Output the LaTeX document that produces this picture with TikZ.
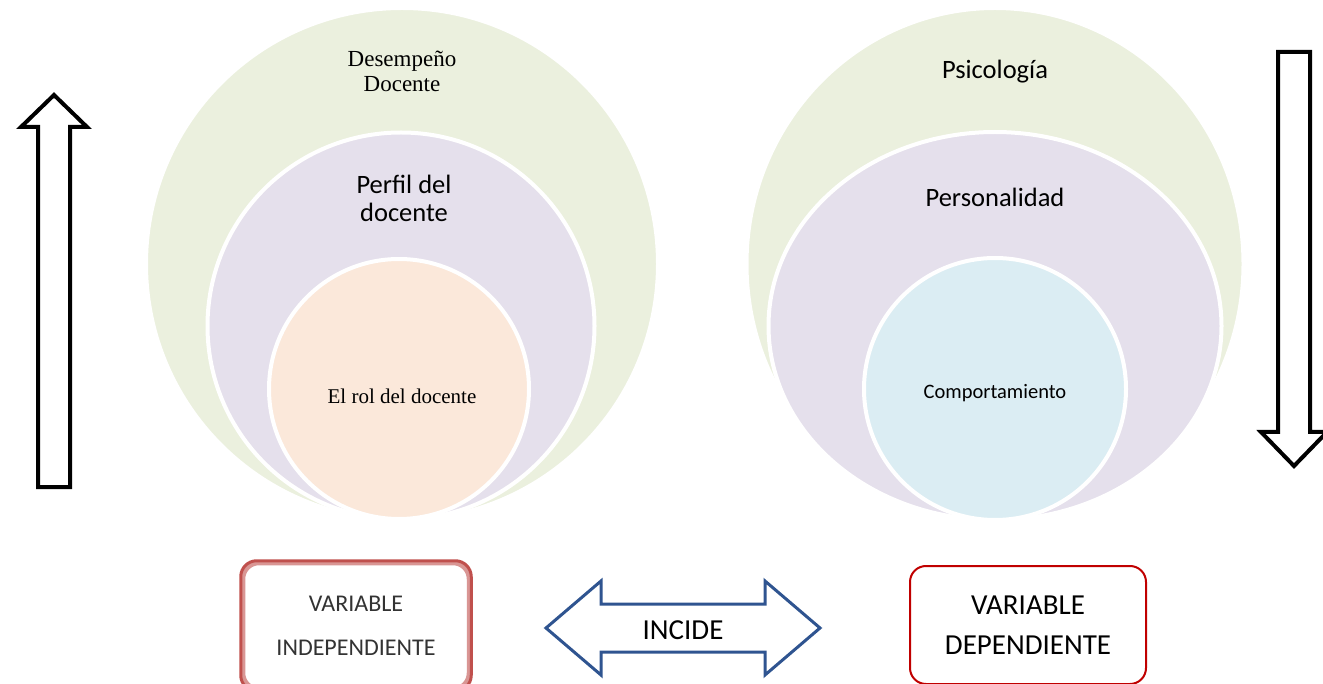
\documentclass[tikz,border=0pt]{standalone}
\usepackage{fontspec}
\setmainfont{Liberation Serif}
\newfontfamily\calibri{Carlito}
\usetikzlibrary{shapes.geometric, positioning}

\definecolor{ringgreen}{HTML}{EBF0DE}
\definecolor{ringlilac}{HTML}{E5E0EC}
\definecolor{ringpeach}{HTML}{FBE8DA}
\definecolor{ringblue}{HTML}{DBEDF3}
\definecolor{boxred}{HTML}{C0504D}
\definecolor{darkred}{HTML}{C00000}
\definecolor{arrowblue}{HTML}{2F5490}

\begin{document}
\begin{tikzpicture}[
    x=1pt, y=-1pt,
    ring/.style={circle, draw=white, line width=4pt, inner sep=0pt},
    oval/.style={ellipse, draw=white, line width=4pt, inner sep=0pt},
    serif/.style={font=\fontsize{21}{25}\selectfont, align=center},
    sans/.style={font=\calibri\fontsize{26.5}{28}\selectfont, align=center},
    varbox/.style={rectangle, rounded corners=16pt, fill=white, align=center},
    hollow/.style={draw=black, line width=4pt, fill=white, line join=miter},
    dbl/.style={draw=arrowblue, line width=3pt, fill=white, line join=miter}
]
\useasboundingbox (0,0) rectangle (1323,684);
\clip (0,0) rectangle (1323,684);

% Left rings
\node[ring, fill=ringgreen, minimum size=512pt] (desempeno) at (402,264) {};
\node[ring, fill=ringlilac, minimum size=387pt] (perfil) at (401,326) {};
\node[ring, fill=ringpeach, minimum size=260pt] (rol) at (399,389) {};
\node[serif, font=\fontsize{23}{25}\selectfont] at (402,71) {Desempeño\\Docente};
\node[sans] at (404,198) {Perfil del\\docente};
\node[serif] at (402,396) {El rol del docente};

% Right rings
\node[oval, fill=ringgreen, minimum width=497pt, minimum height=512pt] (psico) at (995,264) {};
\node[oval, fill=ringlilac, minimum width=453pt, minimum height=388pt] (perso) at (995,326) {};
\node[ring, fill=ringblue, minimum size=262pt] (comp) at (995,389) {};
\node[sans] at (995,72) {Psicología};
\node[sans] at (995,197) {Personalidad};
\node[font=\calibri\fontsize{20.5}{24}\selectfont] at (995,393) {Comportamiento};

% Side arrows
\draw[hollow] (38,487) -- (38,127) -- (21,127) -- (54,95) -- (87,127) -- (70,127) -- (70,487) -- cycle;
\draw[hollow] (1278,52) -- (1310,52) -- (1310,432) -- (1327,432) -- (1294,466) -- (1261,432) -- (1278,432) -- cycle;

% Variables
\node[varbox, draw=boxred!60, line width=4.5pt, minimum width=226pt, minimum height=126pt,
      font=\calibri\fontsize{24}{44}\selectfont, text=black!80] (indep) at (356,626) {VARIABLE\\INDEPENDIENTE};
\draw[boxred, line width=3pt, rounded corners=16pt] (indep.south west) rectangle (indep.north east);
\node[varbox, draw=darkred, line width=2pt, minimum width=236pt, minimum height=118pt,
      font=\calibri\fontsize{29}{40}\selectfont] (dep) at (1028,625) {VARIABLE\\DEPENDIENTE};

% Incide
\node[font=\calibri\fontsize{29}{30}\selectfont] (incide) at (683,630) {INCIDE};
\draw[dbl] ([xshift=-137pt, yshift=2pt]incide.center) -- ++(55,-47) -- ++(0,23) -- ++(164,0) -- ++(0,-23)
    -- ++(55,47) -- ++(-55,47) -- ++(0,-23) -- ++(-164,0) -- ++(0,23) -- cycle;
\node[font=\calibri\fontsize{29}{30}\selectfont] at (incide) {INCIDE};

\end{tikzpicture}
\end{document}
